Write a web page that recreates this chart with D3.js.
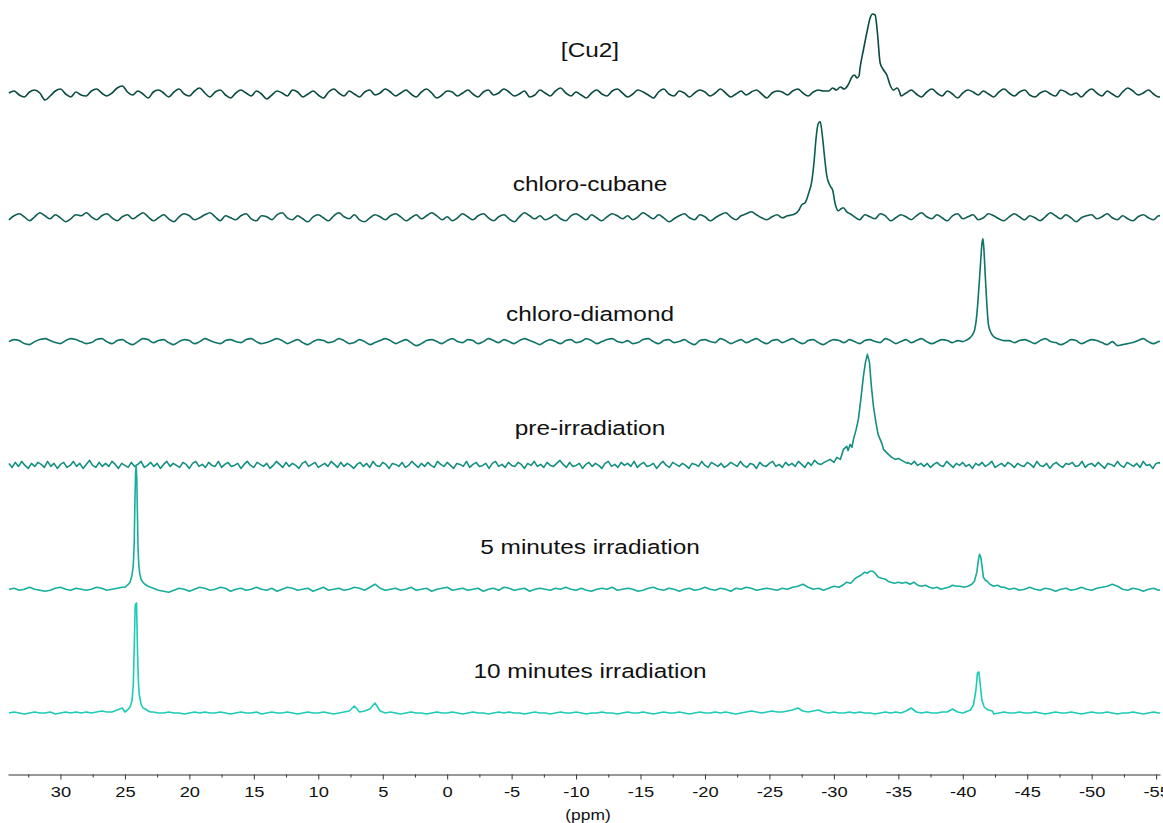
<!DOCTYPE html>
<html>
<head>
<meta charset="utf-8">
<script src="https://cdn.jsdelivr.net/npm/d3@7"></script>
<style>
  body { margin: 0; background: #fff; }
  svg { display: block; }
  text { font-family: "Liberation Sans", Arial, sans-serif; fill: #111; }
</style>
</head>
<body>
<svg id="chart" width="1163" height="823"></svg>
<script>
// Stacked NMR spectra, chemical shift in ppm (axis runs high -> low)

const spectrumNames = ["[Cu2]", "chloro-cubane", "chloro-diamond", "pre-irradiation",
                       "5 minutes irradiation", "10 minutes irradiation"];

// Baseline samples start at gridStart ppm and step downfield
const gridStart = 34.0;
const gridStep = 0.4;       // most traces
const gridStepFine = 0.25;  // pre-irradiation trace

const noiseCu2 = [
  1,3,-1,-3,2,4,1,-6,-2,3,5,0,-3,2,-1,
  -2,3,5,1,-2,1,6,8,2,-1,3,0,-4,2,4,
  1,-3,2,5,0,-2,3,6,1,-3,2,4,-1,-4,1,
  4,1,-2,3,0,-5,-1,3,1,-2,4,2,-3,0,3,
  -1,-4,2,5,1,-2,3,0,-3,2,4,-1,1,5,2,
  -2,1,4,0,-3,2,5,1,-4,-1,3,2,-2,1,4,
  0,-3,2,4,-1,1,5,2,-2,0,3,-3,-1,4,1,
  -2,3,6,1,-2,2,-1,-4,1,4,0,-2,3,5,1,
  -3,0,4,2,-1,-4,2,5,0,-2,3,1,-3,1,4,
  2,-2,1,5,1,-3,0,3,-1,2,4,0,-4,1,3,
  2,-1,3,5,1,-2,2,4,3,3,0,0,0,0,0,
  0,0,0,0,0,0,0,0,-2,1,4,0,-3,2,5,
  1,-2,3,0,-4,1,4,2,-1,3,0,-3,2,5,1,
  -2,2,4,-1,-3,1,3,0,-2,4,2,-1,1,-3,2,
  5,1,-2,3,0,-3,2,6,3,-1,1,4,0,-3,1
];
const noiseCubane = [
  -2,2,4,1,-3,1,5,2,-1,3,0,-4,-1,3,2,
  5,1,-2,2,4,0,-3,1,3,-1,2,5,1,-3,0,
  3,-1,-4,1,4,2,-2,0,3,5,1,-3,2,0,-2,
  2,4,-1,-3,2,1,-2,3,5,0,-2,2,-1,-4,1,
  3,0,-3,2,5,1,-1,3,-2,-4,0,3,1,-2,2,
  4,1,-3,0,3,-1,2,5,2,-2,1,-3,0,4,1,
  -2,2,4,0,-3,1,3,-1,-4,1,5,2,-1,2,-2,
  0,3,-1,-3,2,4,1,-2,3,0,-3,1,4,2,-1,
  2,-2,1,5,2,-1,3,0,-4,-1,2,4,0,-2,3,
  1,-3,0,3,5,1,-2,2,4,6,3,0,-2,1,3,
  0,2,3,0,0,0,0,0,0,0,0,0,0,0,1,
  -2,3,1,-1,4,2,-3,0,3,1,-2,2,5,1,-1,
  3,0,-3,2,4,-1,1,3,-2,0,4,2,-1,-3,1,
  4,1,-2,2,0,-3,1,5,2,-1,3,0,-4,0,2,
  3,-1,1,4,0,-2,2,-1,-3,1,3,0,-2,2,1
];
const noiseDiamond = [
  0,2,1,-2,-3,0,2,3,1,-1,-2,1,3,2,0,
  -2,-1,2,3,0,-2,1,2,-1,-3,0,3,2,-1,1,
  2,-1,-3,0,2,1,-2,0,3,1,-1,-2,1,2,0,
  -1,2,3,0,-2,-1,1,3,1,-2,0,2,-1,-3,0,
  2,1,-1,0,3,1,-2,-1,2,0,-3,-1,1,3,1,
  -2,0,2,-1,-4,-2,1,2,0,-2,1,3,0,-1,2,
  1,-2,0,3,1,-1,2,0,-2,1,3,1,-1,-3,0,
  2,0,-2,1,2,-1,0,3,1,-2,0,2,3,0,-1,
  1,-2,-1,2,3,0,-2,1,2,-1,0,2,-1,-3,1,
  2,0,-1,3,1,-2,0,2,-1,1,3,0,-2,1,2,
  -1,1,3,0,-2,1,2,-1,-3,0,2,1,-1,2,0,
  -2,1,2,0,-1,3,1,-2,0,2,-1,1,3,0,-2,
  0,2,1,-1,1,0,0,0,0,0,0,0,0,1,1,
  -1,1,2,0,-2,1,3,0,-1,-3,-1,2,1,-2,0,
  2,1,-1,-3,0,-4,-3,-2,-1,1,3,0,-2,0,1
];
const noisePre = [
  2,-2,3,-1,4,0,-3,2,-1,3,1,-2,4,-1,2,
  -3,1,3,-2,0,4,-1,2,-3,1,5,0,-2,3,-1,
  2,-1,4,1,-3,2,0,-2,3,-1,1,4,-2,0,3,
  -1,2,-3,1,4,-1,2,0,-2,3,1,-3,2,4,-1,
  1,-2,3,0,-1,4,-2,1,3,-1,0,2,-3,1,4,
  0,-2,3,1,-1,2,-3,0,4,1,-2,3,-1,2,0,
  -3,2,4,-1,1,3,-2,0,2,-1,4,1,-2,3,-1,
  2,0,-3,1,3,-1,2,-2,4,0,-1,3,1,-3,2,
  1,-1,3,-2,0,4,1,-2,2,-1,3,0,-2,4,1,
  -1,3,0,-3,2,1,-1,4,-2,1,3,-1,0,2,-3,
  2,4,-1,1,-2,3,0,-1,3,1,-3,2,0,4,-1,
  1,-2,3,0,-1,2,5,1,-2,3,-1,0,2,-3,1,
  3,-1,2,0,-3,2,4,-1,1,-2,3,0,2,-1,4,
  -2,1,3,-1,0,2,-3,1,4,0,-2,3,1,-1,2,
  0,-3,2,1,-1,4,0,-2,3,1,-1,2,-2,0,3,
  1,-1,4,0,-2,2,1,-3,3,0,-1,2,4,-1,1,
  -2,3,0,2,-1,4,1,-2,3,0,5,2,1,3,4,
  0,0,0,0,0,0,0,0,0,0,0,0,0,0,0,
  0,0,0,0,0,0,0,0,0,3,1,4,0,2,-1,
  2,-2,1,3,0,-1,4,1,-2,2,0,3,-1,1,-3,
  2,0,3,-1,1,4,-2,0,2,-1,3,1,-2,2,0,
  -1,3,1,-2,4,0,-1,2,-3,1,3,0,-2,2,1,
  3,-1,0,4,-2,1,2,-1,3,0,-3,2,1,-1,4,
  0,-2,3,1,-1,2,-2,4,0,1,-3,2,3,-1,1
];
const noise5min = [
  0,1,-1,0,2,0,-1,-2,-1,1,2,0,-1,1,0,
  -1,0,2,1,-1,0,1,2,0,0,0,0,0,1,-1,
  -2,-3,-1,1,0,-2,0,2,1,-1,0,2,1,-2,0,
  1,-1,0,2,0,-1,1,-2,0,2,1,-1,0,1,-2,
  0,2,-1,0,1,-1,0,2,1,-1,2,5,1,-1,0,
  1,-1,0,2,-1,0,1,-2,0,1,2,-1,0,1,-1,
  0,1,-2,0,1,-1,2,1,-1,0,1,-2,0,1,0,
  -1,1,0,2,0,-1,1,-1,-2,0,1,0,2,-1,0,
  1,0,-2,-1,1,2,0,-1,1,0,-2,0,1,-1,0,
  2,0,-1,1,0,-2,1,0,2,1,-1,0,1,0,-1,
  1,0,2,3,5,2,0,1,-1,1,0,0,0,0,0,
  0,0,0,0,0,0,0,0,0,0,0,0,0,0,0,
  0,0,0,0,0,0,0,0,0,0,0,0,0,2,0,
  1,-1,0,2,0,-1,1,0,-2,0,1,-1,0,2,0,
  -1,1,2,3,5,3,0,-1,1,0,-2,0,1,-1,0
];
const noise10min = [
  0,1,0,-1,0,1,0,0,1,-1,0,1,0,1,0,
  1,0,1,2,1,1,3,5,0,0,0,0,0,1,0,
  0,1,0,0,-1,0,1,0,1,0,0,1,0,-1,0,
  1,0,0,1,-1,0,1,0,0,1,0,-1,0,1,0,
  0,1,0,-1,0,1,2,7,1,2,4,10,2,0,1,
  0,-1,0,1,0,0,-1,0,1,0,0,1,0,-1,0,
  1,0,0,-1,0,1,0,1,0,0,-1,0,1,0,0,
  -1,0,1,0,0,1,0,-1,0,0,1,0,0,-1,0,
  1,0,0,1,0,-1,0,1,0,0,1,0,-1,0,1,
  0,0,1,0,1,0,-1,0,1,2,1,0,1,2,1,
  1,2,3,5,2,1,2,3,1,0,1,0,0,1,0,
  1,0,0,-1,0,1,0,1,0,2,5,1,0,1,0,
  0,1,1,4,1,0,2,0,0,1,0,-1,0,1,0,
  0,1,0,0,1,0,-1,0,1,0,0,1,0,-1,0,
  1,0,0,1,0,-1,0,0,1,0,-1,0,1,0,0
];

// Resonances: [ppm, intensity] traced across each signal
const peakCu2 = [[-29.6,3],[-29.9,6],[-30.2,4],[-30.5,7],[-30.8,5],[-31.1,9],[-31.4,17],[-31.6,19],
  [-31.8,16],[-31.95,18],[-32.04,27],[-32.29,44],[-32.6,64],[-32.81,76],[-33.0,80],[-33.2,79],
  [-33.38,61],[-33.59,31],[-33.85,24],[-34.11,19],[-34.36,9],[-34.62,4],[-34.9,6],[-35.1,2]];
const peakCubane = [[-26.8,3],[-27.1,5],[-27.25,7],[-27.51,13],[-27.77,15],[-28.03,24],[-28.29,37],
  [-28.47,57],[-28.62,80],[-28.78,94],[-28.94,96],[-29.09,84],[-29.25,64],[-29.45,42],[-29.71,32],
  [-29.92,27],[-30.1,14],[-30.35,7],[-30.55,9],[-30.74,10],[-31.0,6],[-31.26,4],[-31.5,2]];
const peakDiamond = [[-40.2,1],[-40.57,4],[-40.88,10],[-41.09,27],[-41.25,54],[-41.37,77],[-41.48,97],
  [-41.56,103],[-41.63,94],[-41.74,67],[-41.87,37],[-41.99,17],[-42.18,9],[-42.51,4],[-42.9,2]];
const peakPre = [[-29.4,4],[-29.71,6],[-30.0,3],[-30.23,8],[-30.5,6],[-30.74,16],[-31.0,19],[-31.1,15],
  [-31.26,21],[-31.4,18],[-31.52,26],[-31.73,36],[-31.9,46],[-32.09,66],[-32.29,89],[-32.45,103],
  [-32.6,111],[-32.76,103],[-32.91,79],[-33.07,59],[-33.26,43],[-33.43,31],[-33.59,26],[-33.72,22],
  [-33.85,16],[-34.0,14],[-34.23,11],[-34.5,8],[-34.75,6],[-35.0,7],[-35.4,4],[-35.7,2]];
const peak5minA = [[25.0,2],[24.8,4],[24.6,7],[24.45,14],[24.35,24],[24.28,45],[24.22,90],[24.17,118],
  [24.13,124],[24.08,112],[24.03,75],[23.98,40],[23.92,24],[23.85,16],[23.75,10],[23.6,7],[23.45,5],
  [23.2,3],[23.0,2]];
const peak5minB = [[-29.6,1],[-30.0,3],[-30.4,2],[-30.8,5],[-31.0,7],[-31.3,6],[-31.6,10],[-31.8,12],
  [-32.1,14],[-32.4,17],[-32.6,16],[-32.8,18],[-33.0,18],[-33.2,16],[-33.45,12],[-33.7,11],[-34.0,10],
  [-34.2,8],[-34.4,7],[-34.7,6],[-35.0,7],[-35.3,6],[-35.6,7],[-35.9,5],[-36.2,7],[-36.5,4],[-36.8,3],
  [-37.1,4],[-37.4,2],[-37.7,1],[-38.0,2],[-38.3,0],[-38.6,1],[-38.9,2],[-39.2,4],[-39.5,3],[-39.8,3],
  [-40.1,2],[-40.4,3],[-40.7,5],[-40.9,8],[-41.09,17],[-41.2,28],[-41.3,35],[-41.4,32],[-41.5,22],
  [-41.6,12],[-41.75,9],[-41.9,8],[-42.1,5],[-42.4,3],[-42.7,4],[-43.0,2]];
const peak10minA = [[25.0,1],[24.8,3],[24.6,6],[24.45,12],[24.35,28],[24.27,70],[24.2,108],[24.1,110],
  [24.02,60],[23.95,30],[23.88,18],[23.75,9],[23.6,5],[23.4,4],[23.2,2],[23.0,1]];
const peak10minB = [[-40.4,2],[-40.6,3],[-40.83,8],[-41.02,23],[-41.14,40],[-41.25,41],[-41.35,29],
  [-41.48,13],[-41.66,6],[-41.85,4],[-42.0,3],[-42.3,2]];

const majorTicks = [30,25,20,15,10,5,0,-5,-10,-15,-20,-25,-30,-35,-40,-45,-50,-55];
const minorTicks = [32.5,27.5,22.5,17.5,12.5,7.5,2.5,-2.5,-7.5,-12.5,-17.5,-22.5,-27.5,-32.5,
                    -37.5,-42.5,-47.5,-52.5];

const spectra = [
  { name: spectrumNames[0], noise: noiseCu2,     step: gridStep,     peaks: [peakCu2] },
  { name: spectrumNames[1], noise: noiseCubane,  step: gridStep,     peaks: [peakCubane] },
  { name: spectrumNames[2], noise: noiseDiamond, step: gridStep,     peaks: [peakDiamond] },
  { name: spectrumNames[3], noise: noisePre,     step: gridStepFine, peaks: [peakPre] },
  { name: spectrumNames[4], noise: noise5min,    step: gridStep,     peaks: [peak5minA, peak5minB] },
  { name: spectrumNames[5], noise: noise10min,   step: gridStep,     peaks: [peak10minA, peak10minB] }
];

// ---- layout & styling ----
const colors = ["#0b4a40", "#0d5e52", "#0f7566", "#138f80", "#17ae9c", "#1dcbb6"];
const curves = [d3.curveMonotoneX, d3.curveMonotoneX, d3.curveMonotoneX,
                d3.curveLinear, d3.curveLinear, d3.curveLinear];
const labelLift = [37, 27, 21, 30, 35, 35];   // label baseline above its trace baseline
const textStretch = 1.19;

const svg = d3.select("#chart");

const x = d3.scaleLinear().domain([34.07, -55.3]).range([8, 1160]);
const rowY = d3.scalePoint().domain(spectrumNames).range([94, 713]);
const amp = d3.scaleLinear().domain([0, 100]).range([0, -100]);

svg.append("defs").append("clipPath").attr("id", "plot-clip")
  .append("rect").attr("x", 8).attr("y", -200).attr("width", 1152).attr("height", 1200);

// merge baseline samples with traced resonances, skipping samples that fall inside a trace
function tracePoints(s) {
  const spans = s.peaks.map(p => d3.extent(p, d => d[0]));
  const base = s.noise.map((v, i) => [gridStart - i * s.step, v])
    .filter(([p]) => !spans.some(([lo, hi]) => p > lo && p < hi));
  return base.concat(...s.peaks).sort((a, b) => b[0] - a[0]);
}

const rows = svg.selectAll("g.spectrum").data(spectra).join("g")
  .attr("class", "spectrum")
  .attr("transform", d => `translate(0,${rowY(d.name)})`);

rows.append("path")
  .attr("clip-path", "url(#plot-clip)")
  .attr("d", (d, i) => d3.line().curve(curves[i]).x(p => x(p[0])).y(p => amp(p[1]))(tracePoints(d)))
  .attr("fill", "none")
  .attr("stroke", (d, i) => colors[i])
  .attr("stroke-width", 1.6)
  .attr("stroke-linejoin", "round");

rows.append("text")
  .attr("text-anchor", "middle")
  .attr("font-size", 20.5)
  .attr("transform", (d, i) => `translate(590,${-labelLift[i]}) scale(${textStretch},1)`)
  .text(d => d.name);

// ---- ppm axis ----
const axisY = 774.5;
const fmt = d => String(d);

const gMinor = svg.append("g").attr("transform", `translate(0,${axisY})`)
  .call(d3.axisBottom(x).tickValues(minorTicks).tickSize(3).tickSizeOuter(0).tickFormat(""));
gMinor.select(".domain").remove();

const gMajor = svg.append("g").attr("transform", `translate(0,${axisY})`)
  .call(d3.axisBottom(x).tickValues(majorTicks).tickSize(5).tickSizeOuter(0).tickFormat(fmt));

svg.selectAll(".tick line, .domain").attr("stroke", "#333").attr("stroke-width", 1);
gMajor.selectAll(".tick text")
  .attr("font-family", "Liberation Sans, Arial, sans-serif")
  .attr("font-size", 15)
  .attr("fill", "#111")
  .attr("y", 12)
  .attr("transform", `scale(1.22,1)`);

svg.append("text")
  .attr("text-anchor", "middle")
  .attr("font-size", 14.5)
  .attr("transform", `translate(588,820) scale(1.2,1)`)
  .text("(ppm)");
</script>
</body>
</html>
